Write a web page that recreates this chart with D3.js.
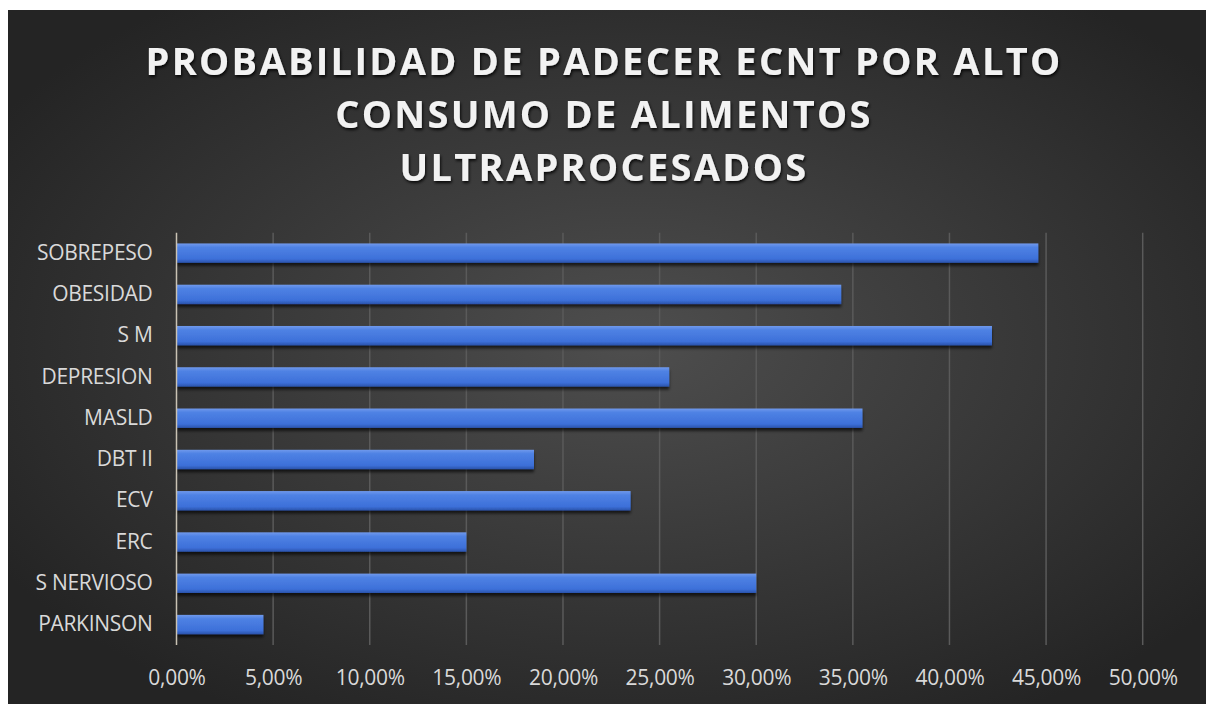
<!DOCTYPE html>
<html>
<head>
<meta charset="utf-8">
<script src="https://cdn.jsdelivr.net/npm/d3@7"></script>
<style>
  html, body { margin: 0; padding: 0; background: #fff; }
  svg { display: block; }
</style>
</head>
<body>
<div id="chart"></div>
<script>
// probabilidad de padecer ECNT, barras horizontales
const categories = ["SOBREPESO", "OBESIDAD", "S M", "DEPRESION", "MASLD", "DBT II", "ECV", "ERC", "S NERVIOSO", "PARKINSON"];
const values = [0.446, 0.344, 0.422, 0.255, 0.355, 0.185, 0.235, 0.15, 0.30, 0.045];
const tickValues = [0, 0.05, 0.10, 0.15, 0.20, 0.25, 0.30, 0.35, 0.40, 0.45, 0.50];
const titleLines = ["PROBABILIDAD DE PADECER ECNT POR ALTO", "CONSUMO DE ALIMENTOS", "ULTRAPROCESADOS"];

const width = 1206, height = 704;
const font = "'Open Sans', 'Noto Sans', sans-serif";

const esLocale = d3.formatLocale({ decimal: ",", thousands: ".", grouping: [3], currency: ["", "€"] });
const fmt = esLocale.format(".2%");

const svg = d3.select("#chart")
  .append("svg")
  .attr("width", width)
  .attr("height", height);

const defs = svg.append("defs");

const bg = defs.append("radialGradient")
  .attr("id", "bg")
  .attr("cx", "52%").attr("cy", "48%").attr("r", "62%");
bg.append("stop").attr("offset", "0%").attr("stop-color", "#4e4e4e");
bg.append("stop").attr("offset", "100%").attr("stop-color", "#242424");

const barGrad = defs.append("linearGradient")
  .attr("id", "barGrad")
  .attr("x1", 0).attr("y1", 0).attr("x2", 0).attr("y2", 1);
barGrad.append("stop").attr("offset", "0%").attr("stop-color", "#7099ec");
barGrad.append("stop").attr("offset", "20%").attr("stop-color", "#4f82e4");
barGrad.append("stop").attr("offset", "80%").attr("stop-color", "#3d70d9");
barGrad.append("stop").attr("offset", "100%").attr("stop-color", "#2a53ab");

defs.append("filter").attr("id", "barShadow")
  .attr("x", "-5%").attr("y", "-30%").attr("width", "110%").attr("height", "180%")
  .append("feDropShadow")
  .attr("dx", 0).attr("dy", 3).attr("stdDeviation", 1.8)
  .attr("flood-color", "#000").attr("flood-opacity", 0.65);

defs.append("filter").attr("id", "textShadow")
  .attr("x", "-5%").attr("y", "-20%").attr("width", "110%").attr("height", "150%")
  .append("feDropShadow")
  .attr("dx", 1).attr("dy", 2).attr("stdDeviation", 1.6)
  .attr("flood-color", "#000").attr("flood-opacity", 0.85);

// fondo
svg.append("rect")
  .attr("x", 8).attr("y", 10)
  .attr("width", width - 8).attr("height", height - 10)
  .attr("fill", "url(#bg)");

// titulo
svg.append("g")
  .attr("font-family", font)
  .attr("font-weight", 700)
  .attr("font-size", 38)
  .attr("letter-spacing", 2.3)
  .attr("fill", "#f2f2f2")
  .attr("text-anchor", "middle")
  .attr("filter", "url(#textShadow)")
  .selectAll("text")
  .data(titleLines)
  .join("text")
  .attr("x", 604)
  .attr("y", (d, i) => 75 + i * 53)
  .text(d => d);

const x = d3.scaleLinear().domain([0, 0.5]).range([176.5, 1142.7]);
const y = d3.scaleBand().domain(categories).range([232.7, 645]).paddingInner(0.53).paddingOuter(0.26);

// lineas de la grilla
svg.append("g")
  .selectAll("line")
  .data(tickValues.slice(1))
  .join("line")
  .attr("x1", d => x(d)).attr("x2", d => x(d))
  .attr("y1", 232.7).attr("y2", 645)
  .attr("stroke", "#5a5a5a")
  .attr("stroke-width", 1.5);

// barras
svg.append("g")
  .attr("filter", "url(#barShadow)")
  .selectAll("rect")
  .data(categories)
  .join("rect")
  .attr("x", x(0))
  .attr("y", d => y(d))
  .attr("width", (d, i) => x(values[i]) - x(0))
  .attr("height", y.bandwidth())
  .attr("fill", "url(#barGrad)");

// eje vertical
svg.append("line")
  .attr("x1", x(0)).attr("x2", x(0))
  .attr("y1", 232.7).attr("y2", 645)
  .attr("stroke", "#c9c2b4")
  .attr("stroke-width", 1.5);

// eje x
const xAxis = svg.append("g")
  .attr("transform", "translate(0,645)")
  .call(d3.axisBottom(x).tickValues(tickValues).tickFormat(fmt).tickSize(0).tickPadding(25));
xAxis.select(".domain").remove();
xAxis.selectAll("text")
  .attr("font-family", font)
  .attr("font-size", 21)
  .attr("letter-spacing", -0.3)
  .attr("fill", "#d9d9d9");

// eje y
const yAxis = svg.append("g")
  .attr("transform", `translate(${x(0)},0)`)
  .call(d3.axisLeft(y).tickSize(0).tickPadding(24));
yAxis.select(".domain").remove();
yAxis.selectAll("text")
  .attr("font-family", font)
  .attr("font-size", 21)
  .attr("letter-spacing", -0.3)
  .attr("fill", "#d9d9d9");
</script>
</body>
</html>
